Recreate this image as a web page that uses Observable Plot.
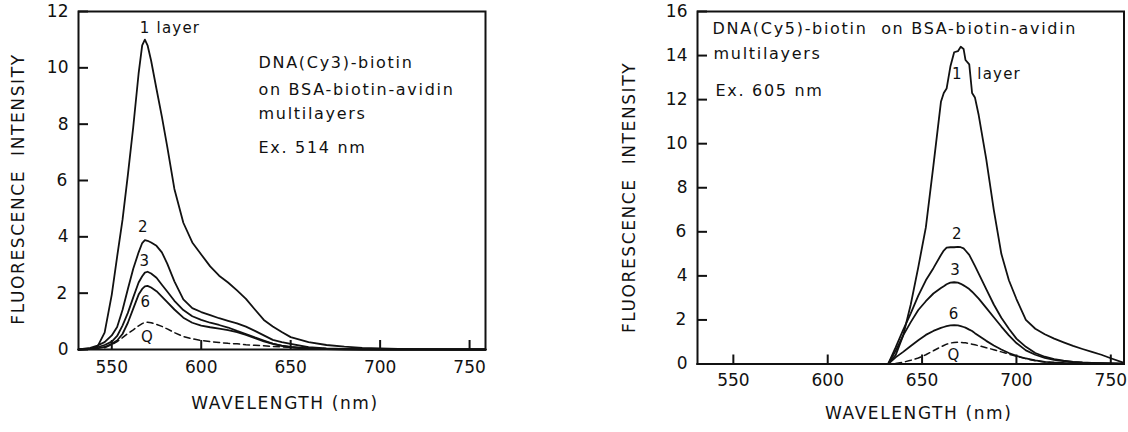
<!DOCTYPE html>
<html>
<head>
<meta charset="utf-8">
<script src="https://cdn.jsdelivr.net/npm/d3@7"></script>
<script src="https://cdn.jsdelivr.net/npm/@observablehq/plot@0.6"></script>
<style>
  body { margin: 0; background: #fff; }
  #wrap { position: relative; width: 1128px; height: 432px; background: #fff; }
  #wrap svg { position: absolute; top: 0; }
</style>
</head>
<body>
<div id="wrap"></div>
<script>
// ---------- data ----------
const seriesNames = ["1 layer", "2", "3", "6", "Q"];
const xTicks = [550, 600, 650, 700, 750];
const yTicksCy3 = [0, 2, 4, 6, 8, 10, 12];
const yTicksCy5 = [0, 2, 4, 6, 8, 10, 12, 14, 16];
const xLabel = "WAVELENGTH (nm)";
const yLabel = "FLUORESCENCE  INTENSITY";

// Left panel: DNA(Cy3)-biotin, Ex. 514 nm
const wlCy3 = [531.4, 538, 542, 546, 550, 553, 556, 559, 562, 565, 567, 568.5, 570, 572, 575, 578, 581, 585, 590, 595, 600, 605, 610, 615, 620, 625, 630, 635, 640, 645, 650, 660, 670, 680, 690, 700, 710, 720, 740, 758.9];
const cy3Layer1 = [0, 0.02, 0.1, 0.6, 1.95, 3.3, 4.6, 6.2, 7.9, 9.8, 10.8, 11.0, 10.8, 10.25, 9.25, 8.27, 7.2, 5.7, 4.5, 3.8, 3.37, 2.95, 2.62, 2.38, 2.1, 1.8, 1.42, 1.05, 0.82, 0.62, 0.44, 0.26, 0.16, 0.1, 0.06, 0.04, 0.02, 0.01, 0, 0];
const cy3Layer2 = [0, 0.06, 0.14, 0.26, 0.5, 0.8, 1.4, 2.15, 2.87, 3.45, 3.78, 3.88, 3.86, 3.8, 3.68, 3.45, 3.05, 2.42, 1.78, 1.47, 1.33, 1.22, 1.11, 1.02, 0.93, 0.81, 0.66, 0.5, 0.34, 0.26, 0.2, 0.08, 0.04, 0.02, 0.01, 0.005, 0, 0, 0, 0];
const cy3Layer3 = [0, 0.02, 0.08, 0.16, 0.28, 0.48, 0.85, 1.3, 1.85, 2.38, 2.6, 2.73, 2.76, 2.7, 2.55, 2.3, 2.06, 1.73, 1.4, 1.18, 1.05, 0.95, 0.87, 0.78, 0.66, 0.55, 0.43, 0.32, 0.21, 0.14, 0.09, 0.04, 0.02, 0.01, 0, 0, 0, 0, 0, 0];
const cy3Layer6 = [0, 0.01, 0.04, 0.09, 0.2, 0.32, 0.55, 0.95, 1.45, 1.95, 2.15, 2.24, 2.26, 2.2, 2.07, 1.88, 1.68, 1.42, 1.13, 0.95, 0.85, 0.79, 0.74, 0.69, 0.62, 0.52, 0.4, 0.29, 0.2, 0.13, 0.08, 0.02, 0.01, 0, 0, 0, 0, 0, 0, 0];
const cy3Q = [null, null, null, 0.06, 0.17, 0.28, 0.42, 0.57, 0.7, 0.84, 0.92, 0.96, 0.97, 0.95, 0.89, 0.82, 0.73, 0.6, 0.46, 0.38, 0.32, 0.28, 0.25, 0.22, 0.2, 0.17, 0.15, 0.13, 0.11, 0.09, 0.08, 0.05, 0.03, 0.01, null, null, null, null, null, null];

// Right panel: DNA(Cy5)-biotin, Ex. 605 nm
const wlCy5 = [531, 632, 636, 640, 644, 648, 652, 656, 660, 661.5, 663, 665, 667, 669, 670.5, 672, 673, 675, 676.5, 678, 680, 684, 688, 692, 696, 700, 705, 710, 715, 720, 725, 730, 735, 740, 745, 750, 757];
const cy5Layer1 = [0, 0, 0.4, 1.3, 2.7, 4.4, 6.2, 9.0, 11.9, 12.3, 12.5, 13.5, 14.15, 14.2, 14.4, 14.3, 13.8, 13.6, 12.3, 12.1, 11.3, 9.3, 7.0, 5.0, 3.8, 2.95, 2.0, 1.6, 1.35, 1.15, 0.98, 0.82, 0.68, 0.55, 0.42, 0.26, 0.05];
const cy5Layer2 = [0, 0, 0.75, 1.55, 2.3, 3.1, 3.8, 4.35, 4.95, 5.15, 5.28, 5.3, 5.3, 5.32, 5.3, 5.25, 5.15, 4.95, 4.7, 4.45, 4.1, 3.4, 2.7, 2.1, 1.6, 1.15, 0.78, 0.5, 0.33, 0.22, 0.15, 0.1, 0.07, 0.05, 0.04, 0.03, 0.02];
const cy5Layer3 = [0, 0, 0.6, 1.3, 1.9, 2.45, 2.85, 3.2, 3.45, 3.53, 3.62, 3.69, 3.71, 3.69, 3.64, 3.57, 3.52, 3.4, 3.28, 3.15, 2.97, 2.55, 2.12, 1.7, 1.3, 0.95, 0.62, 0.42, 0.28, 0.19, 0.13, 0.09, 0.06, 0.05, 0.04, 0.03, 0.02];
const cy5Layer6 = [0, 0, 0.3, 0.55, 0.82, 1.08, 1.32, 1.5, 1.64, 1.68, 1.72, 1.75, 1.76, 1.75, 1.72, 1.68, 1.65, 1.56, 1.5, 1.4, 1.28, 1.05, 0.84, 0.66, 0.5, 0.37, 0.25, 0.16, 0.1, 0.07, 0.05, 0.04, 0.03, 0.03, 0.02, 0.02, 0.01];
const cy5Q = [null, null, 0.02, 0.08, 0.17, 0.27, 0.42, 0.6, 0.78, 0.84, 0.9, 0.95, 0.98, 0.99, 0.98, 0.97, 0.96, 0.93, 0.9, 0.87, 0.83, 0.74, 0.65, 0.55, 0.45, 0.35, 0.24, 0.15, 0.09, 0.05, 0.03, 0.02, null, null, null, null, null];

const notesCy3 = ["DNA(Cy3)-biotin", "on BSA-biotin-avidin", "multilayers", "Ex. 514 nm"];
const notesCy5 = ["DNA(Cy5)-biotin  on BSA-biotin-avidin", "multilayers", "Ex. 605 nm"];

// ---------- drawing ----------
const INK = "#111";
const FONT = "DejaVu Sans";

function buildRows(wl, seriesValues) {
  const rows = [];
  seriesValues.forEach((vals, k) => {
    vals.forEach((v, i) => { if (v != null) rows.push({wl: wl[i], v, name: seriesNames[k]}); });
  });
  return rows;
}

function peakOf(rows, name) {
  return [d3.greatest(rows.filter(r => r.name === name), r => r.v)];
}

function curveLabel(rows, name, text, dx, dy, anchor = "middle") {
  return Plot.text(peakOf(rows, name), {
    x: "wl", y: "v", text: () => text, dx, dy, textAnchor: anchor, lineAnchor: "middle",
    fontSize: 15, fill: INK
  });
}

function note(text, dx, dy) {
  return Plot.text([text], {
    text: d => d, frameAnchor: "top-left", dx, dy, textAnchor: "start", lineAnchor: "middle",
    fontSize: 16, fill: INK
  });
}

function basePanel({width, margins, xDomain, yDomain, yTicks, rows, xTickPad, xTitle, yTitle, extra}) {
  const frameW = width - margins[0] - margins[1];
  const frameH = 432 - margins[2] - margins[3];
  // inward tick lengths (9 px / 10 px) expressed in data units of each scale
  const xTickLen = (yDomain[1] - yDomain[0]) * 9 / frameH;
  const yTickLen = (xDomain[1] - xDomain[0]) * 10 / frameW;
  return Plot.plot({
    width, height: 432,
    marginLeft: margins[0], marginRight: margins[1], marginTop: margins[2], marginBottom: margins[3],
    style: {fontFamily: FONT, background: "#fff", color: INK, overflow: "visible"},
    x: {domain: xDomain},
    y: {domain: yDomain},
    marks: [
      Plot.line(rows.filter(r => r.name !== "Q"), {x: "wl", y: "v", z: "name", stroke: INK, strokeWidth: 1.8}),
      Plot.line(rows.filter(r => r.name === "Q"), {x: "wl", y: "v", stroke: INK, strokeWidth: 1.5, strokeDasharray: "6,4"}),
      Plot.frame({stroke: INK, strokeWidth: 2}),
      // inward ticks
      Plot.ruleX(xTicks, {x: d => d, y1: yDomain[0], y2: yDomain[0] + xTickLen, stroke: INK, strokeWidth: 2}),
      Plot.ruleY(yTicks, {y: d => d, x1: xDomain[0], x2: xDomain[0] + yTickLen, stroke: INK, strokeWidth: 2}),
      // tick labels
      Plot.axisX({ticks: xTicks, tickSize: 0, tickPadding: xTickPad, fontSize: 17, label: null, fill: INK}),
      Plot.axisY({ticks: yTicks, tickSize: 0, tickPadding: 10, fontSize: 17, label: null, fill: INK}),
      // axis titles
      Plot.text([xLabel], {text: d => d, frameAnchor: "bottom", dx: xTitle[0], dy: xTitle[1], textAnchor: "middle", lineAnchor: "middle", fontSize: 17, fill: INK}),
      Plot.text([yLabel], {text: d => d, frameAnchor: "left", rotate: -90, dx: yTitle[0], dy: yTitle[1], textAnchor: "middle", lineAnchor: "middle", fontSize: 17, fill: INK}),
      ...extra
    ]
  });
}

function spaceTexts(svg, texts, px) {
  d3.select(svg).selectAll("text")
    .filter(function() { return texts.includes(this.textContent); })
    .style("letter-spacing", px + "px");
}

const rowsCy3 = buildRows(wlCy3, [cy3Layer1, cy3Layer2, cy3Layer3, cy3Layer6, cy3Q]);
const rowsCy5 = buildRows(wlCy5, [cy5Layer1, cy5Layer2, cy5Layer3, cy5Layer6, cy5Q]);

const left = basePanel({
  width: 564, margins: [78, 79, 11, 83],
  xDomain: [531.4, 758.9], yDomain: [0, 12], yTicks: yTicksCy3, rows: rowsCy3,
  xTickPad: 11.5, xTitle: [3, 54], yTitle: [-59.7, 8.5],
  extra: [
    curveLabel(rowsCy3, "1 layer", "1 layer", -5, -11, "start"),
    curveLabel(rowsCy3, "2", "2", -1.5, -13),
    curveLabel(rowsCy3, "3", "3", -2.8, -11),
    curveLabel(rowsCy3, "6", "6", -1.8, 16),
    curveLabel(rowsCy3, "Q", "Q", 0, 15),
    note(notesCy3[0], 180, 51),
    note(notesCy3[1], 180, 78),
    note(notesCy3[2], 180, 102),
    note(notesCy3[3], 180, 136)
  ]
});

const right = basePanel({
  width: 564, margins: [133, 4.5, 11, 68.5],
  xDomain: [531, 757], yDomain: [0, 16], yTicks: yTicksCy5, rows: rowsCy5,
  xTickPad: 10.3, xTitle: [8, 50], yTitle: [-68.3, 9.7],
  extra: [
    curveLabel(rowsCy5, "1 layer", "1", -3.4, 27),
    curveLabel(rowsCy5, "1 layer", "layer", 16.6, 27, "start"),
    curveLabel(rowsCy5, "2", "2", -0.5, -13),
    curveLabel(rowsCy5, "3", "3", 1.5, -11.7),
    curveLabel(rowsCy5, "6", "6", 0, -11.4),
    curveLabel(rowsCy5, "Q", "Q", -4, 13.3),
    note(notesCy5[0], 15, 17),
    note(notesCy5[1], 16, 42),
    note(notesCy5[2], 18, 79)
  ]
});

for (const svg of [left, right]) {
  spaceTexts(svg, [xLabel, yLabel], 1.6);
  spaceTexts(svg, [...notesCy3, ...notesCy5], 1.7);
  spaceTexts(svg, ["1 layer", "layer", "1", "2", "3", "6", "Q"], 1.2);
}

left.style.left = "0px";
right.style.left = "564px";
document.getElementById("wrap").append(left, right);
</script>
</body>
</html>
